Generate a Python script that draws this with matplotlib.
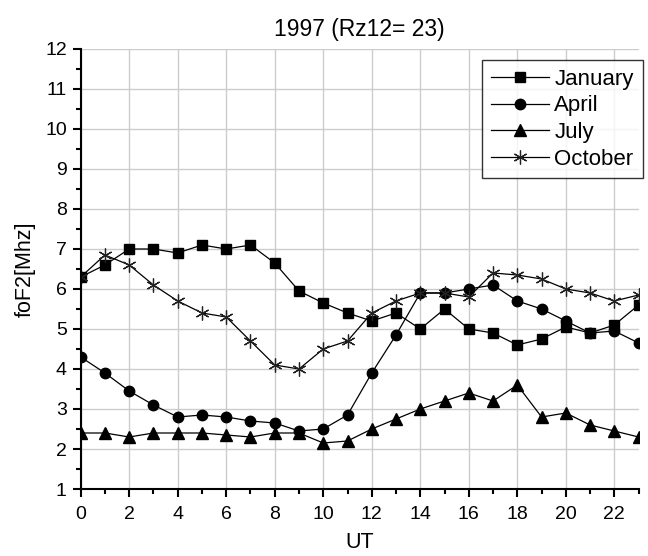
import matplotlib
matplotlib.use("Agg")
import matplotlib.pyplot as plt
from matplotlib.ticker import MultipleLocator

plt.rcParams['font.family'] = ['Liberation Sans', 'DejaVu Sans']

ut = list(range(24))
january = [6.3, 6.6, 7.0, 7.0, 6.9, 7.1, 7.0, 7.1, 6.65, 5.95, 5.65, 5.4,
           5.2, 5.4, 5.0, 5.5, 5.0, 4.9, 4.6, 4.75, 5.05, 4.9, 5.1, 5.6]
april = [4.3, 3.9, 3.45, 3.1, 2.8, 2.85, 2.8, 2.7, 2.65, 2.45, 2.5, 2.85,
         3.9, 4.85, 5.9, 5.9, 6.0, 6.1, 5.7, 5.5, 5.2, 4.9, 4.95, 4.65]
july = [2.4, 2.4, 2.3, 2.4, 2.4, 2.4, 2.35, 2.3, 2.4, 2.4, 2.15, 2.2,
        2.5, 2.75, 3.0, 3.2, 3.4, 3.2, 3.6, 2.8, 2.9, 2.6, 2.45, 2.3]
october = [6.3, 6.85, 6.6, 6.1, 5.7, 5.4, 5.3, 4.7, 4.1, 4.0, 4.5, 4.7,
           5.4, 5.7, 5.9, 5.9, 5.8, 6.4, 6.35, 6.25, 6.0, 5.9, 5.7, 5.85]

fig = plt.figure(figsize=(6.48, 5.56), dpi=100)
ax = fig.add_axes([0.1245, 0.1205, 0.861, 0.7914])

common = dict(color='black', linewidth=0.9, markeredgecolor='black', markerfacecolor='black')
ax.plot(ut, january, marker='s', markersize=7, label='January', **common)
ax.plot(ut, april, marker='o', markersize=7.5, label='April', **common)
ax.plot(ut, july, marker='^', markersize=8, label='July', **common)
ax.plot(ut, october, marker=(6, 2, 0), markersize=10, markeredgewidth=0.9,
        label='October', color='black', linewidth=0.9, markeredgecolor='#222222')

ax.set_xlim(0, 23)
ax.set_ylim(1, 12)
ax.xaxis.set_major_locator(MultipleLocator(2))
ax.xaxis.set_minor_locator(MultipleLocator(1))
ax.yaxis.set_major_locator(MultipleLocator(1))
ax.yaxis.set_minor_locator(MultipleLocator(0.5))
ax.grid(True, which='major', color='#cccccc', linewidth=1.0)
ax.set_axisbelow(True)

for s in ['top', 'right']:
    ax.spines[s].set_visible(False)
for s in ['left', 'bottom']:
    ax.spines[s].set_linewidth(1.5)

ax.tick_params(which='major', direction='out', length=6, width=1.5, labelsize=14, pad=4)
ax.tick_params(axis='x', which='major', pad=6)
ax.tick_params(which='minor', direction='out', length=3.5, width=1.5)

ax.set_xlabel('UT', fontsize=15.5, labelpad=7)
ax.set_ylabel('foF2[Mhz]', fontsize=15.5, labelpad=7)
ax.set_title('1997 (Rz12= 23)', fontsize=16.5, pad=9)

leg = ax.legend(loc='upper right', bbox_to_anchor=(1.015, 0.985), fontsize=16,
                frameon=True, fancybox=False, edgecolor='black', handlelength=2.6,
                borderpad=0.4, labelspacing=0.25, handletextpad=0.25, borderaxespad=0.2)
leg.get_frame().set_linewidth(1.0)

fig.savefig('out.png', dpi=100)
